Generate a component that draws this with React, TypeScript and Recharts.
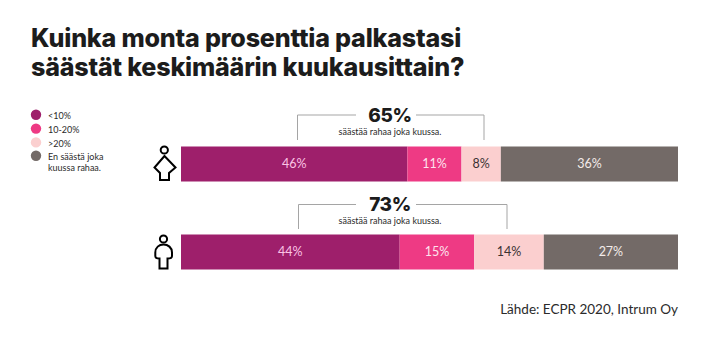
import React from "react";
import { BarChart, Bar, XAxis, YAxis, LabelList } from "recharts";

const groups = ["Naiset", "Miehet"];
const under10 = [46, 44];
const from10to20 = [11, 15];
const over20 = [8, 14];
const noSaving = [36, 27];
const savers = ["65%", "73%"];
const legendLabels = ["<10%", "10-20%", ">20%"];
const legendLast = ["En säästä joka", "kuussa rahaa."];
const titleLines = ["Kuinka monta prosenttia palkastasi", "säästät keskimäärin kuukausittain?"];
const subtitle = "säästää rahaa joka kuussa.";
const source = "Lähde: ECPR 2020, Intrum Oy";
const colors = ["#9e1f6b", "#ee3a84", "#fbcfcf", "#736a67"];

const data = groups.map((g, i) => ({
  g,
  a: under10[i],
  b: from10to20[i],
  c: over20[i],
  d: noSaving[i],
}));

const fmt = (v: any) => `${v}%`;
const font = "Lato, sans-serif";
const headFont = "Inter, sans-serif";

function Labels({ k, fill }: { k: string; fill: string }) {
  return (
    <LabelList
      dataKey={k}
      position="center"
      formatter={fmt}
      fill={fill}
      style={{ fontFamily: font, fontSize: 12.5 }}
    />
  );
}

export default function App() {
  return (
    <div style={{ position: "absolute", left: 0, top: 0, width: 720, height: 359, background: "#fff" }}>
      <BarChart
        width={720}
        height={359}
        data={data}
        layout="vertical"
        stackOffset="expand"
        barSize={35}
        margin={{ top: 119.5, bottom: 63.5, left: 181, right: 42 }}
      >
        <XAxis type="number" hide domain={[0, 1]} />
        <YAxis type="category" dataKey="g" hide />
        <Bar dataKey="a" stackId="s" fill={colors[0]} isAnimationActive={false}>
          {Labels({ k: "a", fill: "#fbc4e4" })}
        </Bar>
        <Bar dataKey="b" stackId="s" fill={colors[1]} isAnimationActive={false}>
          {Labels({ k: "b", fill: "#fde3ee" })}
        </Bar>
        <Bar dataKey="c" stackId="s" fill={colors[2]} isAnimationActive={false}>
          {Labels({ k: "c", fill: "#3a3133" })}
        </Bar>
        <Bar dataKey="d" stackId="s" fill={colors[3]} isAnimationActive={false}>
          {Labels({ k: "d", fill: "#f3ecea" })}
        </Bar>
      </BarChart>
      <svg width={720} height={359} style={{ position: "absolute", left: 0, top: 0, pointerEvents: "none" }}>
        {titleLines.map((t, i) => (
          <text key={t} x={31} y={47 + i * 29} fontFamily={headFont} fontWeight={800} fontSize={25.1} fill="#1c1c1c" letterSpacing={-0.2}>
            {t}
          </text>
        ))}
        {legendLabels.map((t, i) => (
          <g key={t}>
            <circle cx={36} cy={114.8 + i * 13.8} r={5.2} fill={colors[i]} />
            <text x={48} y={118.5 + i * 14} fontFamily={font} fontSize={9} fill="#2b2b2b">{t}</text>
          </g>
        ))}
        <circle cx={36} cy={155.8} r={5.2} fill={colors[3]} />
        {legendLast.map((t, i) => (
          <text key={t} x={48} y={160 + i * 11} fontFamily={font} fontSize={9} fill="#2b2b2b">{t}</text>
        ))}

        <path d="M297.5 140V115H356M416 115H484V140" fill="none" stroke="#a5a5a5" strokeWidth={1} />
        <path d="M298.5 229V204.5H356M416 204.5H507V229" fill="none" stroke="#a5a5a5" strokeWidth={1} />
        {savers.map((s, i) => (
          <g key={s}>
            <text x={390} y={122 + i * 89} textAnchor="middle" fontFamily={headFont} fontWeight={800} fontSize={19} letterSpacing={-0.4} fill="#1c1c1c">{s}</text>
            <text x={390} y={134.5 + i * 89.5} textAnchor="middle" fontFamily={font} fontSize={9} fill="#2b2b2b">{subtitle}</text>
          </g>
        ))}

        <circle cx={164.3} cy={150} r={3.6} fill="none" stroke="#000" strokeWidth={2} />
        <path d="M164.5 156L154.5 167.5L160 173V180H169V173L175.5 167.5Z" fill="none" stroke="#000" strokeWidth={2} strokeLinejoin="miter" />
        <circle cx={163.5} cy={239} r={3.6} fill="none" stroke="#000" strokeWidth={2} />
        <path d="M159.5 258.5C157 258.5 155.3 258 155.3 256V252.5C155.3 247.5 159 244.5 163.5 244.5C168 244.5 172 247.5 172 252.5V256C172 258 170 258.5 167.5 258.5V268.5H159.5Z" fill="none" stroke="#000" strokeWidth={2} />

        <text x={678} y={314} textAnchor="end" fontFamily={font} fontSize={13.5} fill="#2b2b2b">{source}</text>
      </svg>
    </div>
  );
}
